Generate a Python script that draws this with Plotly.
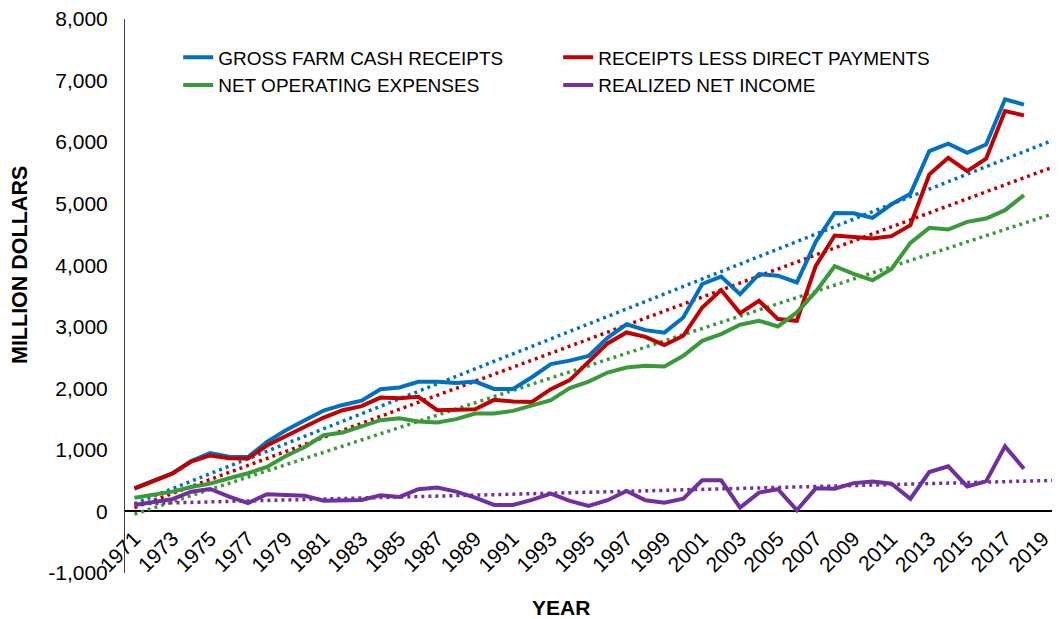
import numpy as np
import plotly.graph_objects as go

years = list(range(1971, 2019))

gross_receipts = [380, 500, 620, 820, 950, 890, 885, 1130, 1320, 1480,
                  1640, 1730, 1800, 1985, 2015, 2105, 2105, 2085, 2110, 1990,
                  1990, 2180, 2395, 2450, 2525, 2820, 3040, 2945, 2905, 3150,
                  3695, 3815, 3530, 3855, 3830, 3720, 4380, 4850, 4845, 4770,
                  4990, 5160, 5855, 5975, 5825, 5960, 6695, 6610]

receipts_less_direct = [370, 485, 615, 810, 910, 865, 860, 1070, 1230, 1375,
                        1525, 1645, 1710, 1850, 1840, 1862, 1645, 1645, 1660, 1813,
                        1786, 1780, 1987, 2133, 2430, 2730, 2908, 2837, 2702, 2854,
                        3314, 3596, 3222, 3423, 3125, 3098, 3990, 4482, 4460, 4434,
                        4472, 4650, 5474, 5745, 5528, 5729, 6504, 6434]

net_operating_expenses = [224, 268, 322, 398, 452, 539, 621, 724, 902, 1049,
                          1239, 1282, 1385, 1483, 1515, 1461, 1444, 1499, 1591, 1591,
                          1634, 1715, 1808, 2003, 2110, 2257, 2339, 2366, 2355, 2528,
                          2772, 2881, 3033, 3098, 3005, 3233, 3570, 3984, 3859, 3756,
                          3940, 4363, 4607, 4580, 4705, 4759, 4894, 5138]

realized_net_income = [106, 150, 200, 320, 365, 240, 135, 280, 268, 255,
                       175, 180, 185, 263, 236, 361, 387, 322, 224, 106,
                       106, 187, 290, 171, 89, 182, 333, 182, 143, 208,
                       507, 507, 62, 306, 361, 20, 375, 369, 460, 488,
                       450, 206, 640, 732, 407, 488, 1057, 694]

series_names = ["GROSS FARM CASH RECEIPTS", "RECEIPTS LESS DIRECT PAYMENTS",
                "NET OPERATING EXPENSES", "REALIZED NET INCOME"]
series_values = [gross_receipts, receipts_less_direct, net_operating_expenses, realized_net_income]
colors = ["#0070C0", "#C00000", "#3A9A3A", "#7030A0"]

x_tick_years = list(range(1971, 2020, 2))
y_tick_vals = list(range(-1000, 8001, 1000))
y_tick_text = ["-1,000", "0", "1,000", "2,000", "3,000", "4,000", "5,000", "6,000", "7,000", "8,000"]

FONT = "Liberation Sans, Arial, sans-serif"
x_end = 2019.8

fig = go.Figure()

# trend lines (linear fits of each series)
yrs = np.array(years, dtype=float)
trend_x = np.array([years[0], x_end], dtype=float)
for name, vals, col in zip(series_names, series_values, colors):
    slope, intercept = np.polyfit(yrs, np.array(vals, dtype=float), 1)
    fig.add_trace(go.Scatter(x=trend_x, y=slope * trend_x + intercept, mode="lines",
                             line=dict(color=col, width=3.5, dash="3px,4px"),
                             showlegend=False, hoverinfo="skip"))

for name, vals, col in zip(series_names, series_values, colors):
    fig.add_trace(go.Scatter(x=years, y=vals, mode="lines", name=name,
                             line=dict(color=col, width=4)))

y0_frac = 1000 / 9000

fig.update_layout(
    width=1052, height=611,
    margin=dict(l=117, r=2, t=11, b=46),
    plot_bgcolor="white", paper_bgcolor="white",
    font=dict(family=FONT, color="black", size=20),
    showlegend=True,
    legend=dict(orientation="h", x=0.057, y=0.965, xanchor="left", yanchor="top",
                entrywidth=335, entrywidthmode="pixels",
                font=dict(family=FONT, size=19, color="black"),
                bgcolor="rgba(0,0,0,0)", tracegroupgap=0),
    xaxis=dict(range=[1970.5, x_end], tickmode="array", tickvals=x_tick_years,
               ticktext=[str(v) for v in x_tick_years], tickangle=-45,
               tickfont=dict(family=FONT, size=21), showgrid=False, zeroline=False,
               showline=False, ticks="", anchor="free", position=y0_frac,
               ticklabelstandoff=10, ticklabeloverflow="allow", automargin=False),
    yaxis=dict(range=[-1000, 8000], tickmode="array", tickvals=y_tick_vals, ticktext=y_tick_text,
               tickfont=dict(family=FONT, size=21), showgrid=False,
               zeroline=True, zerolinecolor="black", zerolinewidth=1.5,
               showline=True, linecolor="#404040", linewidth=1, ticks="",
               ticklabelstandoff=12, ticklabeloverflow="allow", automargin=False),
    annotations=[
        dict(text="<b>MILLION DOLLARS</b>", xref="paper", yref="paper", x=-0.1125, y=0.556,
             textangle=-90, showarrow=False, xanchor="center", yanchor="middle",
             font=dict(family=FONT, size=21.5, color="black")),
        dict(text="<b>YEAR</b>", xref="paper", yref="paper", x=0.467, y=-0.063,
             showarrow=False, xanchor="center", yanchor="middle",
             font=dict(family=FONT, size=21, color="black")),
    ],
)

fig.write_html("out.html")
